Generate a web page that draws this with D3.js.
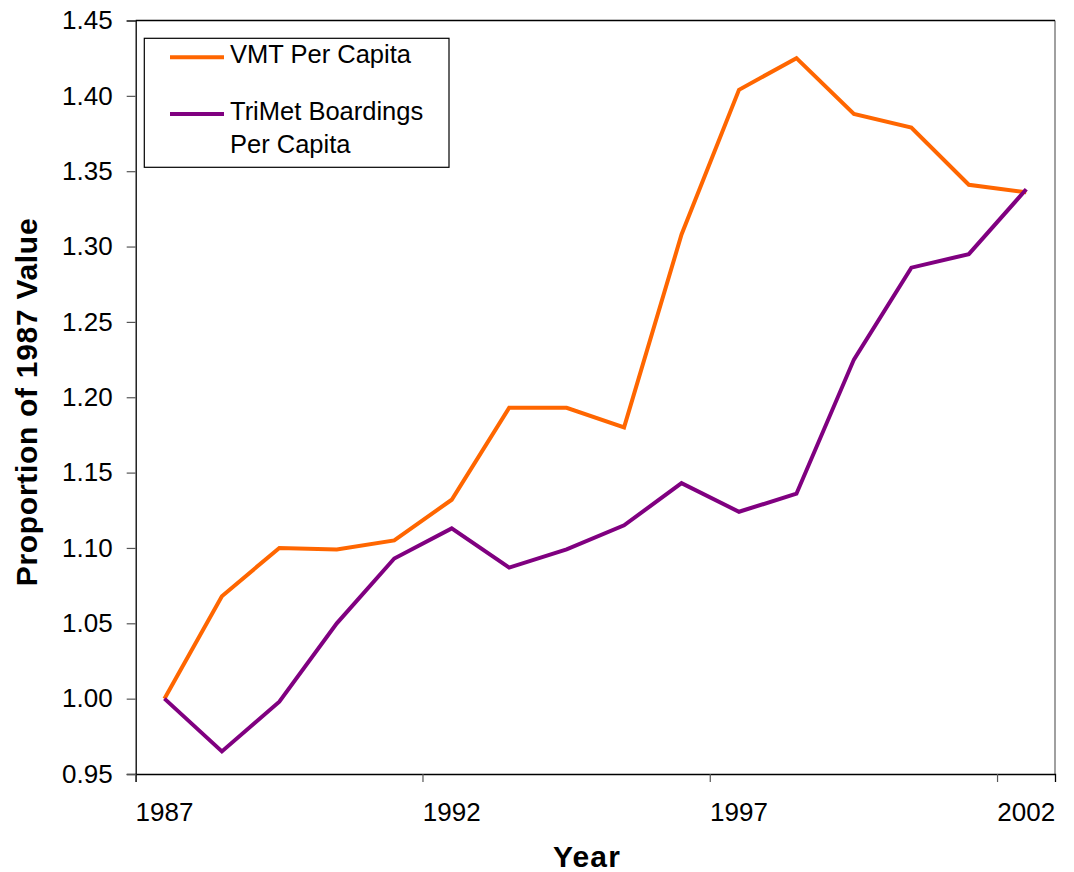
<!DOCTYPE html>
<html>
<head>
<meta charset="utf-8">
<script src="https://cdn.jsdelivr.net/npm/d3@7"></script>
<style>
  body { margin: 0; background: #fff; }
  svg { display: block; font-family: "Liberation Sans", Arial, sans-serif; }
</style>
</head>
<body>
<svg class="chart" width="1074" height="872"></svg>
<script>
// categories and series
const years = [1987, 1988, 1989, 1990, 1991, 1992, 1993, 1994, 1995, 1996, 1997, 1998, 1999, 2000, 2001, 2002];
const vmtPerCapita = [1.000, 1.068, 1.100, 1.099, 1.105, 1.132, 1.193, 1.193, 1.180, 1.308, 1.404, 1.425, 1.388, 1.379, 1.341, 1.336];
const trimetPerCapita = [1.000, 0.965, 0.998, 1.050, 1.093, 1.113, 1.087, 1.099, 1.115, 1.143, 1.124, 1.136, 1.225, 1.286, 1.295, 1.338];
const xTickYears = [1987, 1992, 1997, 2002];
const yTicks = [0.95, 1.00, 1.05, 1.10, 1.15, 1.20, 1.25, 1.30, 1.35, 1.40, 1.45];
const seriesNames = ['VMT Per Capita', 'TriMet Boardings Per Capita'];

const plotLeft = 135.7, plotRight = 1055, plotTop = 20.5, plotBottom = 774;

const svg = d3.select('.chart');

const x = d3.scaleBand()
  .domain(years)
  .range([plotLeft, plotRight])
  .padding(0);
const y = d3.scaleLinear()
  .domain([0.95, 1.45])
  .range([plotBottom, plotTop]);
const bw = x.bandwidth();

// plot area frame: gray on the right, black on top
svg.append('line')
  .attr('x1', plotRight).attr('x2', plotRight)
  .attr('y1', plotTop).attr('y2', plotBottom)
  .attr('stroke', '#808080').attr('stroke-width', 1.5);
svg.append('line')
  .attr('x1', plotLeft).attr('x2', plotRight)
  .attr('y1', plotTop).attr('y2', plotTop)
  .attr('stroke', '#000').attr('stroke-width', 1.3);

// y axis
const yAxis = svg.append('g')
  .attr('transform', `translate(${plotLeft},0)`)
  .call(d3.axisLeft(y).tickValues(yTicks).tickFormat(d3.format('.2f')).tickSize(9).tickPadding(14));
yAxis.select('.domain').attr('stroke', '#000').attr('stroke-width', 1.3);
yAxis.selectAll('.tick line').attr('stroke', '#555').attr('stroke-width', 1.2);
yAxis.selectAll('text').attr('font-size', 26).attr('fill', '#000')
  .attr('font-family', '"Liberation Sans", Arial, sans-serif');

// x axis: labels on category centres, tick marks between categories
const xAxis = svg.append('g')
  .attr('transform', `translate(0,${plotBottom})`)
  .call(d3.axisBottom(x).tickValues(xTickYears).tickSize(8).tickPadding(21));
xAxis.select('.domain').attr('stroke', '#000').attr('stroke-width', 1.3);
xAxis.selectAll('.tick line')
  .attr('x1', -bw / 2).attr('x2', -bw / 2)
  .attr('stroke', '#555').attr('stroke-width', 1.2);
xAxis.selectAll('text').attr('font-size', 26).attr('fill', '#000')
  .attr('font-family', '"Liberation Sans", Arial, sans-serif');

// axis titles
svg.append('text')
  .attr('x', 587).attr('y', 866.5)
  .attr('text-anchor', 'middle')
  .attr('font-size', 30).attr('font-weight', 'bold')
  .attr('letter-spacing', 1.2)
  .text('Year');
svg.append('text')
  .attr('transform', 'translate(36.7,402) rotate(-90)')
  .attr('text-anchor', 'middle')
  .attr('font-size', 30).attr('font-weight', 'bold')
  .attr('letter-spacing', 0.7)
  .text('Proportion of 1987 Value');

// lines
const line = d3.line()
  .x((d, i) => x(years[i]) + bw / 2)
  .y(d => y(d));

const series = [
  { name: seriesNames[0], values: vmtPerCapita, color: '#FF6600' },
  { name: seriesNames[1], values: trimetPerCapita, color: '#800080' }
];

svg.append('g')
  .selectAll('path')
  .data(series)
  .enter()
  .append('path')
  .attr('d', d => line(d.values))
  .attr('fill', 'none')
  .attr('stroke', d => d.color)
  .attr('stroke-width', 4)
  .attr('stroke-linejoin', 'miter');

// legend
const legend = svg.append('g');
legend.append('rect')
  .attr('x', 144.3).attr('y', 38.3)
  .attr('width', 304.7).attr('height', 129)
  .attr('fill', '#fff').attr('stroke', '#000').attr('stroke-width', 1.2);

const legendRows = [
  { color: series[0].color, lineY: 57.3, lines: ['VMT Per Capita'], baseY: 63.3 },
  { color: series[1].color, lineY: 114, lines: ['TriMet Boardings', 'Per Capita'], baseY: 120 }
];
legendRows.forEach(r => {
  legend.append('line')
    .attr('x1', 170).attr('x2', 224)
    .attr('y1', r.lineY).attr('y2', r.lineY)
    .attr('stroke', r.color).attr('stroke-width', 4);
  r.lines.forEach((t, k) => {
    legend.append('text')
      .attr('x', 230).attr('y', r.baseY + k * 33.3)
      .attr('font-size', 25.5).attr('fill', '#000')
      .text(t);
  });
});
</script>
</body>
</html>
